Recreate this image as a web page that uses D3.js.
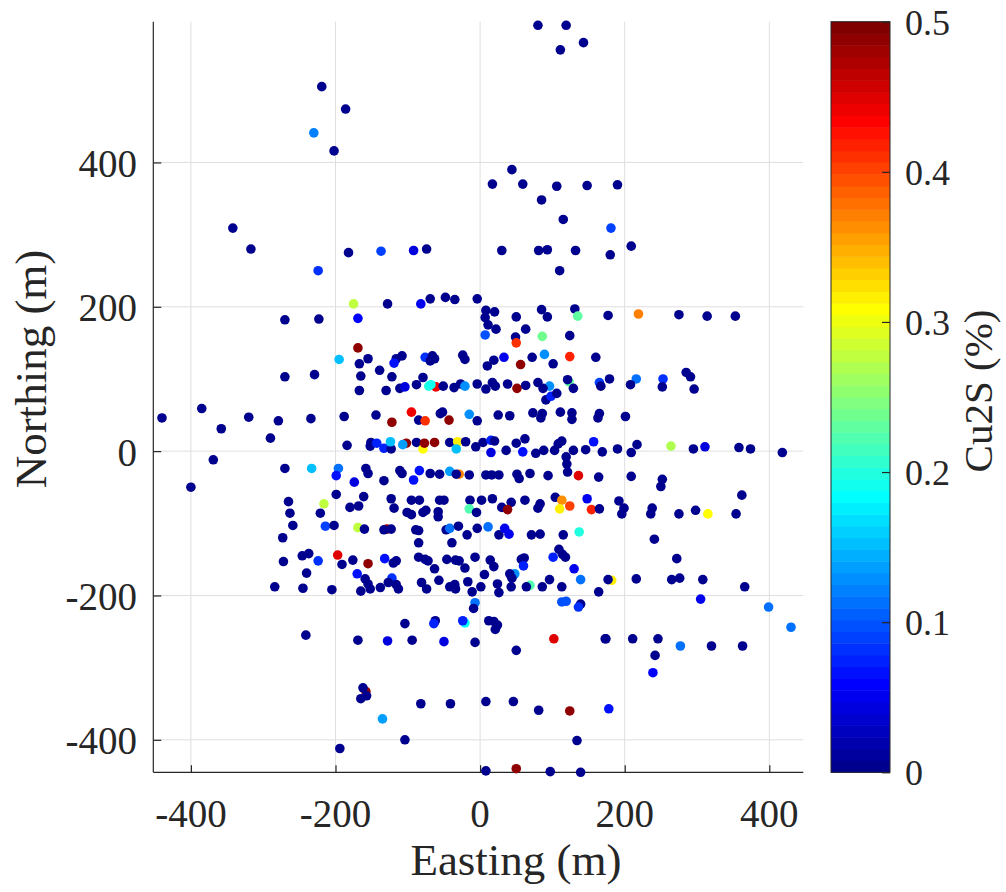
<!DOCTYPE html>
<html><head><meta charset="utf-8">
<script src="https://cdn.jsdelivr.net/npm/d3@7"></script>
<style>
body{margin:0;background:#fff;}
svg{display:block;}
text{font-family:"Liberation Serif","Times New Roman",serif;fill:#262626;}
</style>
</head><body>
<svg id="c" width="1006" height="892"></svg>
<script>
// ---- data (Easting m, Northing m, Cu2S %) ----
const easting = [-219,-186,-230,-202,-342,-317,-182,80,119,111,143,44,17,59,106,148,85,115,-137,-92,-74,30,81,93,132,190,181,209,180,
-224,-175,-169,-270,-223,-169,-195,-155,-167,-165,-270,-229,-167,-440,-385,-358,-320,-279,-234,-188,-290,-184,-151,-152,-369,-270,-233,-196,-199,-158,-155,-174,-400,-199,-161,-265,-216,-180,-168,-263,-221,
110,-128,-82,-69,-48,-35,-4,8,20,7,11,22,7,50,63,49,50,85,93,131,135,86,124,124,89,72,101,160,56,33,19,10,-139,-122,-130,-116,-108,-119,-76,-66,-69,-63,-24,-21,-79,-88,-111,-104,-61,-71,-68,-51,-36,-27,-21,-4,8,17,21,38,51,63,80,96,87,91,98,106,123,121,129,165,167,
-144,-122,-95,-85,-76,-55,-52,-43,-15,-4,25,41,73,86,84,111,127,127,165,163,-143,-133,-123,-124,-102,-107,-88,-79,-77,-63,-42,-31,-33,-20,-6,4,15,20,15,36,50,62,59,77,88,103,108,113,119,120,121,129,146,157,169,
-133,-111,-108,-84,-92,-69,-56,-42,-29,-33,-15,8,16,26,51,54,69,94,136,164,-123,-119,-95,-84,-101,-95,-79,-75,-58,-56,-50,-58,-14,-15,-5,2,17,30,43,38,62,83,80,104,113,110,124,148,154,165,
177,219,275,314,353,179,216,208,253,252,285,291,296,201,190,209,217,264,295,311,358,374,418,209,252,250,362,192,199,196,238,236,275,298,315,354,
241,272,182,177,216,265,276,308,366,305,399,430,174,211,246,277,320,363,242,239,178,
-259,-214,-202,-169,-160,-273,-246,-237,-272,-224,-197,-191,-176,-155,-240,-170,-159,-155,-284,-245,-205,-165,-152,-241,-169,-158,-162,-165,-157,-194,
-129,-133,-123,-89,-85,-85,-47,-42,-30,-39,-18,-4,11,26,34,40,71,83,115,137,-132,-120,-116,-85,-72,-76,-63,-46,-34,-29,-21,-7,6,14,19,48,41,44,57,61,60,101,109,114,118,130,139,
-138,-122,-127,-116,-113,-81,-74,-57,-42,-35,-34,-17,-11,1,24,26,43,69,64,86,96,113,164,-7,-9,113,119,139,136,-104,-62,-64,-21,-24,12,19,24,21,-128,-94,-50,-7,50,102,173,-135,-82,-41,8,46,81,124,-104,134,8,50,97,139];
const northing = [505,474,441,416,309,280,275,590,590,556,566,390,370,370,367,368,348,321,277,278,280,278,278,279,278,369,309,284,272,
250,204,184,182,183,143,127,128,121,104,103,106,84,46,59,31,47,42,45,48,18,8,12,7,-12,-24,-24,-24,-34,-24,-31,-43,-50,-60,-63,-70,-73,-78,-76,-86,-86,
250,204,204,211,213,210,211,195,193,185,175,169,161,186,169,158,150,196,186,197,187,159,160,131,134,130,121,130,120,130,126,118,112,103,84,128,132,122,130,132,125,128,133,127,102,92,87,89,89,90,92,90,88,93,90,93,86,95,90,93,87,91,95,90,87,71,76,80,96,99,87,95,90,
50,40,54,43,42,52,54,43,51,42,50,49,53,52,46,54,53,44,52,46,11,4,3,13,11,9,12,3,11,12,12,13,3,13,6,12,15,14,-2,1,11,17,-1,-3,1,1,10,14,-8,-18,-29,1,2,13,-1,
-41,-27,-31,-27,-40,-31,-32,-28,-32,-32,-33,-33,-33,-33,-32,-38,-31,-34,-34,-36,-66,-79,-68,-68,-85,-88,-85,-82,-84,-68,-68,-91,-68,-80,-85,-68,-66,-78,-71,-81,-68,-73,-79,-64,-68,-80,-76,-66,-81,-80,
188,190,189,187,187,100,100,92,100,89,109,103,86,48,3,-2,9,7,3,6,5,3,-2,-35,-39,-49,-61,-69,-79,-87,-79,-87,-87,-82,-87,-87,
-122,-149,-179,-178,-177,-178,-176,-178,-188,-205,-216,-244,-260,-260,-260,-270,-270,-270,-283,-307,-357,
-103,-104,-103,-106,-108,-120,-145,-142,-153,-152,-144,-157,-151,-156,-169,-170,-177,-184,-188,-190,-192,-194,-191,-255,-262,-333,-328,-343,-339,-412,
-108,-109,-108,-109,-110,-127,-109,-107,-104,-127,-116,-107,-105,-116,-107,-115,-116,-115,-116,-112,-149,-155,-152,-147,-152,-150,-163,-150,-151,-152,-162,-147,-171,-151,-160,-170,-170,-176,-150,-148,-159,-147,-136,-143,-147,-163,-178,
-189,-176,-182,-185,-191,-182,-191,-179,-188,-185,-191,-181,-195,-188,-184,-196,-188,-186,-188,-188,-178,-188,-195,-210,-218,-209,-208,-212,-216,-239,-235,-239,-238,-235,-235,-236,-241,-247,-263,-262,-264,-265,-276,-260,-260,-371,-350,-350,-347,-347,-359,-360,-400,-401,-443,-440,-444,-445];
const cu2s = [0,0,0.12,0,0,0,0,0,0,0,0,0,0,0,0,0,0,0,0.09,0.04,0,0,0,0,0,0,0.09,0,0,
0.08,0.28,0.06,0,0,0.49,0.15,0,0,0,0,0,0,0,0,0,0,0,0,0,0,0,0,0,0,0,0.15,0.11,0.065,0,0,0.04,0,0,0,0,0.28,0,0,0,0,
0,0,0.05,0,0,0,0,0,0,0,0,0,0.1,0,0,0,0.41,0,0,0,0.23,0.24,0,0.42,0.125,0,0,0,0.49,0.05,0,0,0,0,0,0,0,0.065,0.08,0,0,0,0,0,0,0,0,0.04,0.44,0.2,0.19,0,0,0,0.125,0,0,0,0,0,0.49,0,0,0.13,0,0,0.075,0,0.23,0,0,0.09,0,
0,0.49,0.44,0,0.41,0,0,0.49,0.125,0,0,0,0,0,0,0,0,0,0,0,0.075,0.075,0,0.15,0.49,0.14,0,0.31,0.49,0.49,0,0.32,0.15,0,0,0,0.075,0,0.04,0,0,0,0.065,0,0,0,0,0,0,0,0,0,0,0.065,0,
0,0,0,0.065,0.07,0,0,0.14,0.37,0,0,0,0,0,0,0,0,0,0.45,0,0,0,0,0,0,0,0,0,0,0,0,0,0,0.22,0,0,0,0,0,0.49,0,0,0,0,0.36,0.32,0.4,0.047,0.42,0,
0,0.37,0,0,0,0,0.115,0,0.08,0,0,0,0,0,0,0,0,0.27,0,0.04,0,0,0,0,0,0,0,0,0,0,0,0,0,0,0.31,0,
0,0,0.32,0,0,0,0,0,0,0.047,0.11,0.115,0,0,0,0.115,0,0,0,0.06,0.07,
0,0.09,0,0.28,0,0,0,0,0,0.08,0.45,0,0,0.49,0,0.07,0,0,0,0,0,0,0,0,0,0.49,0,0,0,0,
0.48,0,0,0,0,0,0,0.115,0,0,0,0,0.115,0,0.047,0.047,0,0,0,0.2,0.07,0,0,0,0,0,0,0,0,0,0,0,0,0,0,0.13,0,0,0,0,0.075,0.078,0,0,0,0.047,0.115,
0,0.085,0,0,0,0,0,0,0,0,0,0,0,0,0,0,0,0.22,0,0,0,0,0,0.11,0,0.1,0.1,0,0.085,0,0,0.078,0.18,0.078,0,0,0,0,0.04,0,0.04,0,0,0.45,0,0.14,0,0,0,0,0,0.49,0,0,0,0.49,0,0];

const xTicks = [-400,-200,0,200,400];
const yTicks = [-400,-200,0,200,400];
const cTicks = [0,0.1,0.2,0.3,0.4,0.5];
const xLabel = "Easting (m)";
const yLabel = "Northing (m)";
const cLabel = "Cu2S (%)";

// ---- layout ----
const svg = d3.select("#c");
const L = 153.3, R = 803.3, T = 21.7, B = 772.3;
const x = d3.scaleLinear().domain([-452, 447]).range([L, R]);
const y = d3.scaleLinear().domain([-445, 595]).range([B, T]);
const cmin = 0, cmax = 0.5, nColors = 64;

function clamp(v){return Math.max(0, Math.min(1, v));}
function jet(t){
  const r = clamp(Math.min(4*t-1.5, -4*t+4.5));
  const g = clamp(Math.min(4*t-0.5, -4*t+3.5));
  const b = clamp(Math.min(4*t+0.5, -4*t+2.5));
  return d3.rgb(Math.round(r*255), Math.round(g*255), Math.round(b*255)).formatHex();
}
function colorIdx(v){ return Math.max(0, Math.min(nColors-1, Math.floor((v-cmin)/(cmax-cmin)*nColors))); }
function colorOf(v){ return jet((colorIdx(v)+1)/nColors); }

const axisColor = "#262626";

// grid
const g = svg.append("g");
g.selectAll("line.gx").data(xTicks).join("line")
  .attr("x1", d=>x(d)).attr("x2", d=>x(d)).attr("y1", T).attr("y2", B)
  .attr("stroke", "#dfdfdf").attr("stroke-width", 1);
g.selectAll("line.gy").data(yTicks).join("line")
  .attr("y1", d=>y(d)).attr("y2", d=>y(d)).attr("x1", L).attr("x2", R)
  .attr("stroke", "#dfdfdf").attr("stroke-width", 1);

// axes via d3 axis (ticks inward, custom labels)
const xAxis = d3.axisBottom(x).tickValues(xTicks).tickSize(-7).tickPadding(0).tickFormat("");
const yAxis = d3.axisLeft(y).tickValues(yTicks).tickSize(-8).tickPadding(0).tickFormat("");
const gx = svg.append("g").attr("transform", `translate(0,${B})`).call(xAxis);
const gy = svg.append("g").attr("transform", `translate(${L},0)`).call(yAxis);
[gx, gy].forEach(a => {
  a.select(".domain").attr("stroke", axisColor).attr("stroke-width", 1.2)
    .attr("d", a === gx ? `M${L},0H${R}` : `M0,${B}V${T}`);
  a.selectAll(".tick line").attr("stroke", axisColor).attr("stroke-width", 1.2);
});

// tick labels
svg.append("g").selectAll("text").data(xTicks).join("text")
  .attr("x", d=>x(d)).attr("y", 827).attr("text-anchor", "middle")
  .attr("font-size", 39).text(d=>d);
svg.append("g").selectAll("text").data(yTicks).join("text")
  .attr("x", 137).attr("y", d=>y(d)+14.5).attr("text-anchor", "end")
  .attr("font-size", 39).text(d=>d);

// axis labels
svg.append("text").attr("x", 516).attr("y", 875).attr("text-anchor", "middle")
  .attr("font-size", 45).text(xLabel);
svg.append("text").attr("transform", "translate(46,369) rotate(-90)")
  .attr("text-anchor", "middle").attr("font-size", 45).text(yLabel);

// scatter
svg.append("g").selectAll("circle").data(easting.map((e,i)=>({e, n:northing[i], v:cu2s[i]})))
  .join("circle")
  .attr("cx", d=>x(d.e)).attr("cy", d=>y(d.n)).attr("r", 4.8)
  .attr("fill", d=>colorOf(d.v));

// colorbar
const CL = 831, CR = 890;
const cy = d3.scaleLinear().domain([cmin, cmax]).range([B, T]);
const bands = d3.range(nColors);
svg.append("g").selectAll("rect").data(bands).join("rect")
  .attr("x", CL).attr("width", CR-CL)
  .attr("y", i=>cy(cmin + (i+1)*(cmax-cmin)/nColors))
  .attr("height", i=>cy(cmin + i*(cmax-cmin)/nColors) - cy(cmin + (i+1)*(cmax-cmin)/nColors) + 0.5)
  .attr("fill", i=>jet((i+1)/nColors));
svg.append("rect").attr("x", CL).attr("y", T).attr("width", CR-CL).attr("height", B-T)
  .attr("fill", "none").attr("stroke", axisColor).attr("stroke-width", 1);
const cAxis = d3.axisRight(cy).tickValues(cTicks).tickSize(-8).tickFormat("");
const gc = svg.append("g").attr("transform", `translate(${CR},0)`).call(cAxis);
gc.select(".domain").remove();
gc.selectAll(".tick line").attr("stroke", axisColor).attr("stroke-width", 1.2);
svg.append("g").selectAll("text").data(cTicks).join("text")
  .attr("x", 905).attr("y", d=>cy(d)+13).attr("font-size", 36)
  .text(d=>d);
svg.append("text").attr("transform", "translate(992,391) rotate(-90)")
  .attr("text-anchor", "middle").attr("font-size", 41).text(cLabel);
</script>
</body></html>
